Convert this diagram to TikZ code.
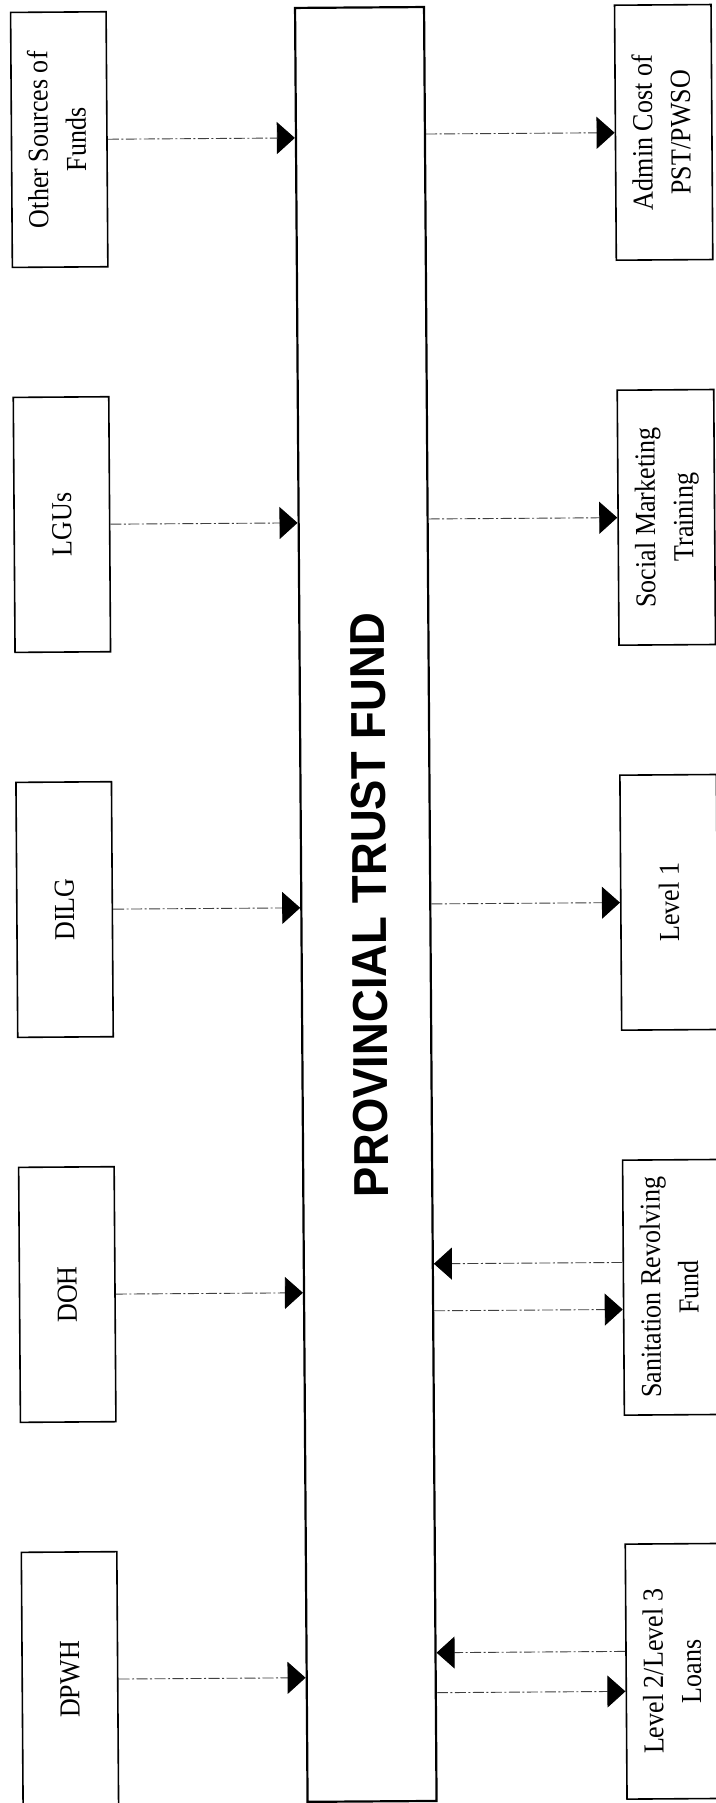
\documentclass[tikz,border=0pt]{standalone}
\usepackage{fontspec}
\setmainfont{Liberation Serif}
\newfontfamily\titlesans{Liberation Sans}
\usepackage{graphicx}
\usetikzlibrary{arrows.meta,calc}

\newcommand{\oneline}[1]{\rotatebox{90}{\scalebox{0.9}[1]{#1}}}
\newcommand{\twolines}[2]{\rotatebox{90}{\scalebox{0.9}[1]{\begin{tabular}{@{}c@{}}#1\\#2\end{tabular}}}}

\tikzset{
  fundbox/.style={draw=black, line width=1.6pt, minimum width=95.5pt, minimum height=255pt,
    inner sep=0pt, font=\fontsize{29}{38}\selectfont},
  trustbox/.style={draw=black, line width=2.2pt, minimum width=129pt, minimum height=1794pt, inner sep=0pt},
  flow/.style={draw=black!75, line width=0.9pt, dash pattern=on 11pt off 2.5pt on 2pt off 2.5pt,
    -{Triangle[length=18pt,width=32pt,color=black]}},
  titletext/.style={font=\titlesans\bfseries\fontsize{49}{55}\selectfont, inner sep=0pt}
}

\begin{document}
\begin{tikzpicture}[x=1pt,y=-1pt]
\fill[white] (0,0) rectangle (715,1803);
\useasboundingbox (0,0) rectangle (715,1803);
\begin{scope}[rotate=0.4, transform shape]
  % central fund
  \node[trustbox] (ptf) at (359.5,907) {};
  \node[titletext] (title) at (363.2,907.6) {\rotatebox{90}{\scalebox{0.93}[1]{PROVINCIAL TRUST FUND}}};

  % sources (left)
  \node[fundbox] (other) at (58.25,140)  {\twolines{Other Sources of}{Funds}};
  \node[fundbox] (lgus)  at (58.25,525)  {\oneline{LGUs}};
  \node[fundbox] (dilg)  at (58.25,910)  {\oneline{DILG}};
  \node[fundbox] (doh)   at (58.25,1295) {\oneline{DOH}};
  \node[fundbox] (dpwh)  at (58.25,1680) {\oneline{DPWH}};

  % uses (right)
  \node[fundbox, minimum width=96.5pt] (admin)  at (662.75,137)  {\twolines{Admin Cost of}{PST/PWSO}};
  \node[fundbox, minimum width=96.5pt] (social) at (662.75,522)  {\twolines{Social Marketing}{Training}};
  \node[fundbox, minimum width=96.5pt] (level1) at (662.75,907)  {\oneline{Level 1}};
  \node[fundbox, minimum width=96.5pt] (srf)    at (662.75,1292) {\twolines{Sanitation Revolving}{Fund}};
  \node[fundbox, minimum width=96.5pt] (loans)  at (662.75,1676) {\twolines{Level 2/Level 3}{Loans}};

  % inflows
  \foreach \s in {other,lgus,dilg,doh,dpwh}{
    \draw[flow] (\s.east) -- ($(ptf.north west)!(\s.east)!(ptf.south west)$);
  }
  % outflows
  \foreach \u in {admin,social,level1}{
    \draw[flow] ($(ptf.north east)!(\u.west)!(ptf.south east)$) -- (\u.west);
  }
  \coordinate (srfback) at ([yshift=25pt]srf.west);
  \coordinate (srfout)  at ([yshift=-22pt]srf.west);
  \coordinate (loanback) at ([yshift=20pt]loans.west);
  \coordinate (loanout)  at ([yshift=-20pt]loans.west);
  \draw[flow] (srfback) -- ($(ptf.north east)!(srfback)!(ptf.south east)$);
  \draw[flow] ($(ptf.north east)!(srfout)!(ptf.south east)$) -- (srfout);
  \draw[flow] (loanback) -- ($(ptf.north east)!(loanback)!(ptf.south east)$);
  \draw[flow] ($(ptf.north east)!(loanout)!(ptf.south east)$) -- (loanout);
\end{scope}
\end{tikzpicture}
\end{document}
